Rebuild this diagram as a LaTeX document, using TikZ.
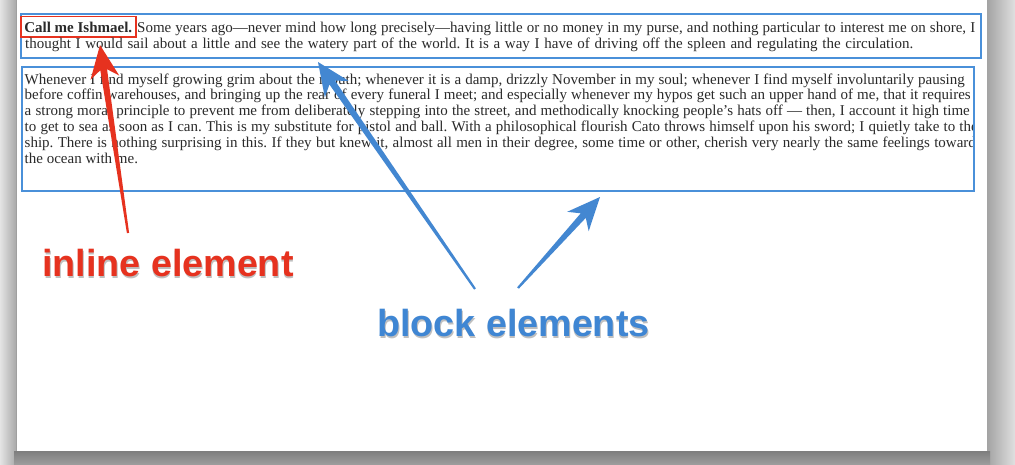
\documentclass[tikz,border=0pt]{standalone}
\usepackage{fontspec}
\setmainfont{Liberation Serif}
\newfontfamily\labelfont{Liberation Sans}
\usetikzlibrary{calc}
\frenchspacing
\definecolor{boxblue}{HTML}{4A90D9}
\definecolor{arrblue}{HTML}{4387D1}
\definecolor{lblblue}{HTML}{3F86D3}
\definecolor{inred}{HTML}{E6321F}
\definecolor{textgray}{HTML}{2A2A2A}
\definecolor{shL}{HTML}{E4E4E4}
\definecolor{shLd}{HTML}{A9A9A9}
\definecolor{shR}{HTML}{E0E0E0}
\definecolor{shRd}{HTML}{A3A3A3}
\definecolor{shB}{HTML}{7E7E7E}
\definecolor{shBl}{HTML}{9C9C9C}
\newcommand\bodyfont{\fontsize{15pt}{16pt}\selectfont}
\newcommand\lblfont{\labelfont\bfseries\fontsize{37.7pt}{40pt}\selectfont}
\newcommand\jline[2]{\makebox[#1][s]{\frenchspacing\spaceskip=0.25em plus 1fil minus 1fil\relax #2}}
\newcommand\skarrow[3]{%
  \path ($(#2)!25pt!(#1)$) coordinate (j) ($(#2)!33pt!(#1)$) coordinate (h);
  \fill[#3] ($(#1)!1.1pt!90:(#2)$) -- ($(j)!3.4pt!90:(#2)$) -- ($(h)!14.5pt!90:(#2)$) -- (#2)
    -- ($(h)!14.5pt!-90:(#2)$) -- ($(j)!3.4pt!-90:(#2)$) -- ($(#1)!1.1pt!-90:(#2)$) -- cycle;}
\begin{document}
\begin{tikzpicture}[x=1pt,y=-1pt,
  txt/.style={anchor=base west, inner sep=0pt, font=\bodyfont, text=textgray},
  blockbox/.style={draw=boxblue, line width=2pt, inner sep=0pt, anchor=north west},
  inlinebox/.style={draw=inred, line width=1.6pt, inner xsep=3.5pt, inner ysep=5pt, anchor=base west, font=\bodyfont\bfseries, text=textgray},
  lbl/.style={anchor=base west, inner sep=0pt, font=\lblfont},
  lblshadow/.style={lbl, text=black, opacity=0.25}]
\useasboundingbox (0,0) rectangle (1015,464);
% page and its shadow
\shade[left color=shL, right color=shLd] (0,0) rectangle (16,464);
\shade[left color=shRd, right color=shR] (987,0) rectangle (1015,464);
\shade[top color=shB, bottom color=shBl] (14,451) rectangle (990,464);
\fill[white] (16,0) rectangle (987,451);
\draw[gray!75, line width=1pt] (16.5,0) -- (16.5,451);
% block 1
\node[blockbox, minimum width=960pt, minimum height=44pt] (box1) at (20,13) {};
\node[inlinebox] (ishmael) at (20,32) {Call me Ishmael.};
\node[txt] (l1) at (137,32) {\jline{838pt}{Some years ago---never mind how long precisely---having little or no money in my purse, and nothing particular to interest me on shore, I}};
\node[txt] (l2) at (25,48.5) {\jline{888pt}{thought I would sail about a little and see the watery part of the world. It is a way I have of driving off the spleen and regulating the circulation.}};
% block 2
\begin{scope}
\clip (21,66) rectangle (972.5,190);
\node[txt] (m1) at (24.5,84) {\jline{940pt}{Whenever I find myself growing grim about the mouth; whenever it is a damp, drizzly November in my soul; whenever I find myself involuntarily pausing}};
\node[txt] (m2) at (24.5,99.8) {\jline{946pt}{before coffin warehouses, and bringing up the rear of every funeral I meet; and especially whenever my hypos get such an upper hand of me, that it requires}};
\node[txt] (m3) at (24.5,115.6) {\jline{945pt}{a strong moral principle to prevent me from deliberately stepping into the street, and methodically knocking people's hats off --- then, I account it high time}};
\node[txt] (m4) at (24.5,131.4) {\jline{953pt}{to get to sea as soon as I can. This is my substitute for pistol and ball. With a philosophical flourish Cato throws himself upon his sword; I quietly take to the}};
\node[txt] (m5) at (24.5,147.2) {\jline{957pt}{ship. There is nothing surprising in this. If they but knew it, almost all men in their degree, some time or other, cherish very nearly the same feelings towards}};
\node[txt] (m6) at (24.5,163) {the ocean with me.};
\end{scope}
\node[blockbox, minimum width=952pt, minimum height=124pt] (box2) at (21,66) {};
% labels
\node[lblshadow] (inlsh) at (42.8,278) {inline element};
\node[lbl, text=inred] (inl) at (42,276) {inline element};
\node[lblshadow] (blksh) at (377.8,338) {block elements};
\node[lbl, text=lblblue] (blk) at (377,336) {block elements};
% arrows
\coordinate (rtail) at (128,233);
\coordinate (rtip) at (100,45);
\coordinate (b1tail) at (475,289);
\coordinate (b1tip) at (318,62);
\coordinate (b2tail) at (518,288);
\coordinate (b2tip) at (600,197);
\skarrow{rtail}{rtip}{inred}
\skarrow{b1tail}{b1tip}{arrblue}
\skarrow{b2tail}{b2tip}{arrblue}
\end{tikzpicture}
\end{document}
